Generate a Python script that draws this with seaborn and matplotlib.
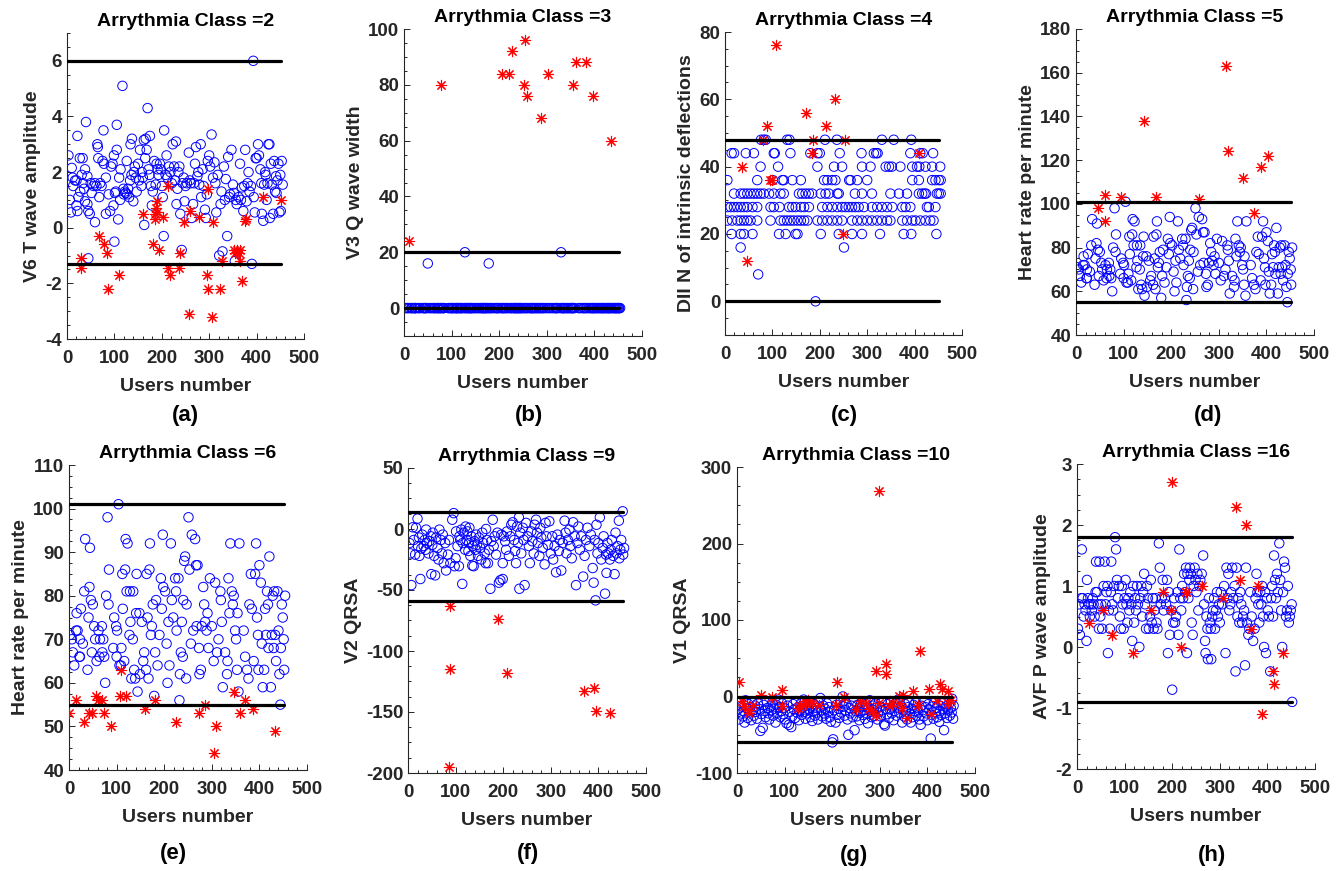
import matplotlib
matplotlib.use("Agg")
import matplotlib.pyplot as plt
import seaborn as sns
import numpy as np
from matplotlib.ticker import MultipleLocator, AutoMinorLocator

# ---------------------------------------------------------------- data
# (user number, value) pairs
a_normal = [(3,2.6),(6,1.0),(8,0.55),(10,2.15),(13,1.5),(17,1.7),(20,1.7),(22,0.6),(20,0.8),(22,3.3),(24,1.1),(27,2.5),
            (33,2.5),(31,1.9),(34,1.6),(38,2.1),(40,3.8),(43,1.85),(38,0.95),(43,0.85),(45,0.6),(48,0.5),(45,-1.1),(52,1.25),
            (56,1.5),(59,0.2),(59,1.6),(64,3.0),(65,2.9),(66,2.5),(68,1.1),(70,1.6),(73,1.5),(77,3.5),(78,2.3),(82,1.8),
            (82,0.5),(91,0.6),(96,2.3),(98,0.8),(100,-0.5),(101,1.25),(99,2.6),(105,3.7),(105,2.8),(108,0.3),(110,1.8),
            (113,2.1),(117,5.1),(119,1.4),(120,1.2),(124,1.25),(126,2.4),(129,1.4),(131,1.1),(133,1.7),(134,3.0),(137,3.2),
            (140,0.95),(141,2.0),(145,1.8),(147,1.3),(150,2.3),(154,2.8),(157,1.5),(160,1.8),(162,3.15),(163,0.1),(166,3.2),
            (168,2.8),(170,4.3),(174,1.9),(175,3.3),(179,0.8),(181,1.3),(184,2.4),(187,1.55),(191,2.1),(196,2.3),(200,1.5),
            (202,1.1),(204,-0.3),(205,3.5),(208,1.9),(210,2.6),(215,2.2),(221,1.6),(223,3.0),(226,2.2),(230,3.1),(231,0.85),
            (235,2.0),(239,0.5),(242,-0.8),(244,1.6),(248,0.95),(253,1.6),(257,2.7),(259,1.7),(263,0.35),(266,0.85),(270,2.3),
            (272,2.9),(275,1.85),(279,1.55),(282,3.0),(283,1.1),(286,2.1),(291,0.65),(293,0.35),(297,2.4),(300,2.6),(305,3.35),
            (308,1.8),(311,2.35),(315,0.55),(318,1.9),(321,-1.0),(324,0.85),(328,-0.85),(331,2.2),(335,1.75),(338,-0.3),
            (340,2.55),(344,1.2),(347,2.8),(350,1.55),(352,1.25),(354,-1.2),(358,0.85),(365,2.3),(369,1.45),(372,0.6),(376,2.8),
            (379,0.95),(383,2.0),(385,1.3),(388,1.5),(390,-1.3),(393,6.0),(396,0.55),(398,2.5),(403,3.0),(405,2.6),(408,2.1),
            (411,0.5),(414,0.25),(416,1.55),(419,1.9),(421,1.0),(425,3.0),(427,3.0),(428,0.35),(432,1.55),(435,0.5),(437,2.4),
            (441,1.85),(442,1.25),(446,2.3),(448,0.55),(451,0.6),(453,2.4),(455,1.55),
            (12,1.8),(28,1.3),(36,1.4),(50,1.6),(62,1.5),(75,2.4),(88,1.2),(93,2.2),(103,1.3),(112,1.0),(122,1.3),(127,1.2),
            (136,1.9),(143,2.2),(152,1.7),(158,2.0),(165,2.5),(172,2.1),(177,1.5),(189,2.3),(193,1.9),(198,2.1),(212,1.8),
            (218,2.0),(228,1.7),(233,1.4),(237,2.2),(246,1.8),(250,1.5),(261,1.6),(268,1.6),(277,2.0),(288,1.5),(295,1.2),
            (302,2.2),(313,1.6),(326,1.3),(333,1.0),(342,1.1),(356,1.0),(362,1.1),(367,1.0),(374,1.5),(381,1.6),(394,1.1),
            (400,2.5),(410,1.6),(418,2.0),(423,1.6),(430,2.3),(439,1.3),(444,1.7),(450,1.9)]
a_class = [(30,-1.1),(30,-1.45),(67,-0.3),(79,-0.6),(84,-0.9),(86,-2.2),(110,-1.7),(160,0.5),(181,-0.6),(186,0.5),
           (188,0.7),(190,0.95),(186,0.3),(195,-0.8),(202,0.4),(214,1.5),(214,-1.45),(218,-1.7),(236,-1.45),(238,-0.9),
           (246,0.2),(257,-3.1),(259,0.6),(278,0.4),(297,1.4),(296,-1.7),(297,-2.2),(306,-3.2),(309,0.2),(323,-2.2),
           (327,-1.2),(353,-0.8),(359,-0.8),(365,-0.8),(363,-0.9),(366,-1.2),(369,-1.9),(375,0.25),(377,0.3),(413,1.1),
           (451,1.0),(190,0.55),(355,-0.9)]

# heart-rate of the normal users (same users in panels d and e)
hr_normal = [(2,71),(6,70),(8,67),(11,64),(15,72),(18,72),(16,76),(22,66),(23,66),(25,77),(23,70),(29,69),(32,81),(34,93),
             (39,63),(41,75),(43,82),(44,91),(46,79),(50,78),(48,67),(53,73),(55,70),(58,65),(62,72),(64,66),(65,70),(69,73),
             (70,67),(72,70),(74,66),(76,60),(78,80),(81,98),(83,78),(84,86),(93,68),(95,75),(99,73),(100,66),(101,72),(104,101),
             (106,64),(109,64),(110,68),(112,85),(113,77),(116,65),(118,86),(119,93),(121,81),(123,92),(127,71),(128,81),(129,74),
             (131,61),(134,70),(135,81),(137,63),(139,61),(141,76),(142,85),(144,58),(148,76),(149,62),(153,74),(156,65),(158,67),
             (162,63),(163,85),(165,75),(167,61),(169,86),(170,92),(172,71),(174,73),(176,78),(179,57),(181,67),(183,79),(186,64),
             (190,71),(193,84),(195,77),(197,94),(198,82),(202,81),(205,69),(207,60),(209,74),(211,64),(214,92),(216,79),(219,75),
             (223,84),(225,81),(226,72),(230,84),(232,56),(233,62),(235,67),(237,74),(239,66),(240,79),(242,88),(244,89),(246,61),
             (247,78),(251,98),(253,86),(256,69),(258,94),(261,72),(265,93),(267,87),(270,87),(268,73),(273,68),(274,62),(277,63),
             (279,73),(282,82),(284,78),(286,74),(289,72),(291,76),(293,68),(296,84),(300,73),(304,65),(307,83),(311,67),(314,70),
             (318,81),(319,79),(321,74),(323,59),(328,67),(332,62),(333,65),(335,84),(337,76),(339,92),(342,81),(344,78),(346,80),
             (349,72),(351,70),(353,63),(354,76),(356,58),(358,92),(367,72),(370,66),(374,63),(377,61),(379,78),(382,85),(384,77),
             (388,65),(391,85),(393,92),(395,75),(397,71),(398,63),(400,87),(403,83),(405,69),(407,59),(410,63),(412,77),(414,71),
             (416,81),(418,78),(419,68),(421,89),(424,59),(426,71),(428,80),(430,68),(431,81),(433,71),(435,65),(438,81),(440,72),
             (442,62),(444,55),(445,68),(447,78),(449,75),(452,63),(454,80),(451,70)]

b_normal = [(50,16),(128,20),(178,16),(330,20)]
b_class = [(10,24),(78,80),(205,84),(220,84),(227,92),(255,96),(253,80),(258,76),(288,68),(303,84),(356,80),(361,88),
           (382,88),(398,76),(435,60)]

# panel c values are whole counts, grouped by level
c_levels = {
    48: [76,82,86,131,136,211,236,331,356,393],
    44: [14,19,44,61,103,105,138,180,195,200,242,288,314,319,322,391,412,417,439],
    40: [75,112,195,230,247,289,307,339,346,352,370,395,405,410,423,437,454],
    36: [5,68,101,121,124,142,160,209,216,226,233,262,265,279,300,395,409,437,444,451,455],
    32: [19,33,40,47,54,61,68,75,82,93,103,117,124,156,163,170,177,184,202,212,219,237,240,274,289,310,349,367,384,
         409,416,421,424,447,451,455],
    28: [5,12,19,26,33,40,47,58,68,96,103,115,135,142,149,160,167,177,205,216,226,237,247,254,261,268,275,282,293,
         310,321,331,342,353,374,381,391,426,430,444],
    24: [5,15,26,33,40,47,54,68,96,117,124,131,138,145,153,160,167,174,195,205,216,226,237,247,268,279,289,300,310,
         321,331,342,349,374,384,395,402,412,423,433,440],
    20: [14,33,40,58,114,128,149,153,202,240,268,289,327,377,393,446],
    16: [33,251],
    8: [70],
    0: [191],
}
c_class = [(107,76),(89,52),(80,48),(35,40),(46,12),(94,36),(100,36),(170,56),(186,48),(184,44),(214,52),(232,60),
           (253,48),(249,20),(409,44)]

d_class = [(47,98),(61,104),(61,92),(95,103),(142,138),(168,103),(259,102),(316,163),(319,124),(351,112),(374,96),
           (388,117),(403,122)]
e_class = [(1,53),(15,56),(32,51),(41,53),(48,53),(57,57),(61,56),(70,56),(73,53),(89,50),(107,57),(109,63),(120,57),
           (159,54),(180,56),(224,51),(274,53),(286,55),(305,44),(309,50),(346,58),(360,53),(369,56),(386,54),(433,49)]

f_normal = [(3,-11.5),(5,-20),(7,-46),(10,1.4),(12,-9),(15,-21),(17,1),(20,8.5),(21,-14),(23,-7),(24,-22),(26,-41),
            (28,-16),(30,-4.6),(33,-14),(35,-9),(37,-17),(38,-0.5),(40,-11.5),(43,-20),(45,-10),(48,-6),(49,-37),(51,-13),
            (52,-3),(55,-22),(57,-38),(59,-7),(62,-15.6),(64,-25),(66,-0.5),(69,-9),(71,-20),(73,-4.6),(75,-28),(78,-11.5),
            (80,-34),(84,-21),(86,-9),(89,-28),(93,7.6),(96,13),(98,-30.5),(100,-24),(101,-2),(104,-14),(107,-30.5),(108,-6),
            (110,-9),(112,-0.5),(114,-45),(115,-11.5),(117,-3),(120,-17),(121,2),(123,-9),(125,-2),(127,-18),(128,-11.5),
            (129,1),(131,-22),(133,-6),(135,-30),(136,-14),(138,-30.5),(140,-10),(142,-17),(143,-4.6),(145,-13),(147,-22),
            (149,-7),(152,-15.6),(154,-25),(156,-3),(158,-11.5),(161,-20),(163,-28),(164,0),(166,-9),(168,-28),(170,-17),
            (173,-49),(175,-10),(178,7.6),(180,-14),(182,-6),(185,-21),(188,-3),(191,-44),(194,-42),(196,-4.6),(199,-41),
            (199,-28),(201,-6),(204,-10),(206,-17),(208,-2),(212,-22),(215,-6),(217,3.5),(220,5.5),(223,-9),(225,-18),
            (227,-28),(229,2),(231,-11.5),(233,9.5),(234,-49),(236,-3),(238,-20),(241,1),(243,-9),(245,-46),(248,5),(251,-6),
            (254,-14),(256,-28),(259,-2),(261,-10),(264,-20),(266,3.5),(269,7.6),(271,-3),(273,-11.5),(276,-22),(278,1),
            (280,-7),(283,-15.6),(287,-29),(289,5),(291,-6),(294,-13),(297,6.3),(300,-20),(303,-6),(305,-25),(308,-14),
            (311,-35.5),(314,-4.6),(317,-18),(319,-9),(322,-34),(325,-11.5),(329,6.8),(331,-3),(333,-20),(336,-9),(339,-0.5),
            (341,-14),(344,-24),(347,5.5),(350,-6),(353,-46),(356,-11.5),(358,2),(361,-17),(364,-6),(368,-39),(371,-22),
            (374,-9),(377,1),(381,-14),(384,-4.6),(388,-32),(390,-44),(392,-9),(394,-58.5),(396,3.5),(398,-20),(400,-11.5),
            (403,9.5),(406,-25),(409,-15.6),(411,-6),(414,-53),(416,-21),(417,-36),(419,-11.5),(421,-20),(424,-25),(426,-17),
            (428,-9),(431,-22),(434,-37),(436,-3),(438,-20),(440,-14),(443,6.8),(444,-24),(446,-17),(448,-9),(451,14.5),
            (452,-21),(454,-15.6)]
f_class = [(89,-63),(190,-74),(89,-115),(208,-118),(369,-133),(390,-130),(396,-149),(424,-151),(86,-195)]

g_normal = [(2,-17),(4,-30),(6,-8),(8,-22),(10,-13),(12,-26),(14,-19),(16,-34),(18,-5),(20,-15),(22,-28),(24,-10),
            (26,-21),(28,-14),(30,-31),(32,-7),(34,-18),(36,-25),(38,-12),(40,-20),(42,-29),(44,-9),(46,-16),(49,-45),
            (51,-23),(54,-41),(56,-11),(58,-19),(60,-27),(62,-6),(64,-15),(66,-22),(68,-30),(70,-13),(72,-18),(74,-8),
            (76,-25),(78,-16),(81,-34),(83,-11),(85,-21),(87,-4),(89,-14),(91,-27),(93,-19),(95,-9),(97,-23),(99,-15),
            (101,-30),(104,-35),(106,-12),(109,-37),(111,-20),(114,-40),(116,-26),(118,-10),(120,-17),(122,-28),(124,-6),
            (126,-21),(128,-14),(130,-31),(132,-18),(134,-9),(136,-24),(138,-15),(140,-4),(142,-20),(144,-29),(146,-12),
            (148,-22),(150,-7),(152,-17),(154,-27),(156,-13),(158,-32),(160,-19),(162,-10),(164,-25),(166,-15),(168,-21),
            (170,-30),(172,-8),(175,-2),(177,-18),(179,-26),(181,-12),(183,-22),(185,-16),(187,-29),(189,-9),(191,-20),
            (193,-14),(195,-27),(197,-33),(200,-60),(202,-56),(204,-18),(207,-34),(209,-11),(211,-24),(213,-16),(215,-28),
            (217,-7),(219,-21),(222,0),(224,-13),(226,-25),(228,-18),(230,-9),(232,-30),(234,-50),(236,-15),(238,-22),
            (240,-12),(243,-27),(245,-6),(247,-44),(249,-19),(251,-26),(253,-11),(255,-17),(257,-31),(259,-21),(261,-8),
            (263,-14),(265,-24),(267,-18),(269,-29),(271,-10),(273,-22),(275,-35),(277,-15),(279,-5),(281,-20),(283,-27),
            (285,-12),(287,-18),(289,-25),(291,-9),(293,-15),(295,-30),(297,-21),(300,-13),(302,-26),(304,-7),(306,-18),
            (309,-36),(311,-38),(313,-16),(315,-23),(317,-10),(319,-28),(321,-17),(323,-6),(325,-22),(327,-13),(329,-31),
            (331,-19),(333,-9),(335,-25),(337,-15),(339,-4),(341,-21),(344,-12),(347,-34),(349,-18),(351,-26),(353,-10),
            (355,-20),(357,-30),(359,-14),(361,-7),(363,-23),(365,-34),(367,-16),(369,-27),(371,-11),(373,-19),(375,-8),
            (377,-25),(379,-15),(381,-21),(383,-30),(386,-37),(388,-12),(390,-18),(392,-26),(394,-6),(396,-14),(398,-22),
            (400,-31),(402,-10),(404,-17),(407,-55),(409,-24),(411,-13),(413,-29),(415,-8),(417,-20),(419,-15),(421,-27),
            (423,-11),(425,-33),(427,-19),(429,-24),(431,-9),(433,-16),(435,-44),(437,-22),(439,-13),(441,-28),(443,-18),
            (445,-10),(447,-25),(449,-15),(451,-21),(452,-3),(454,-29),(455,-12)]
g_class = [(4,18.5),(95,8),(51,2.4),(74,0),(210,18.5),(298,269),(292,33),(313,43),(312,29.5),(385,59),(404,10),
           (426,16.5),(430,10),(444,6.7),(369,6.7),(340,1),(348,2.4),(358,-28),(407,-22.5),(11,-6),(14,-13),(25,-17),
           (26,-21),(128,-15),(133,-13),(138,-11),(142,-6),(149,-4),(172,-11),(208,-11),(224,-1),(249,-16),(270,-8.5),
           (278,-16),(284,-19),(291,-24),(299,-8.5),(319,-13),(326,-8.5),(340,-8.5),(347,-15),(381,-11),(421,-6),
           (444,-8.5),(449,-5),(157,-8.5),(259,-6),(95,-13),(33,-11),(145,-9)]

h_normal = [(2,0.3),(4,0.7),(6,0.2),(9,0.8),(10,1.6),(12,0.8),(14,0.5),(16,0.7),(18,0.6),(20,0.1),(21,1.1),(23,0.8),
            (25,0.7),(27,0.5),(29,0.7),(31,0.6),(33,0.8),(35,0.7),(37,0.5),(39,0.9),(40,1.4),(42,0.9),(44,0.7),(46,0.3),
            (47,1.4),(49,0.5),(51,0.7),(53,0.3),(56,1.0),(58,1.4),(60,0.7),(62,0.9),(64,1.0),(65,-0.1),(67,0.6),(69,0.3),
            (71,0.9),(72,1.4),(74,0.7),(76,0.6),(78,1.0),(80,1.8),(82,1.6),(84,1.1),(86,0.8),(88,1.0),(90,0.5),(92,0.3),
            (94,1.0),(96,0.7),(98,0.3),(100,0.8),(102,1.1),(104,0.7),(106,0.4),(108,0.8),(110,0.6),(112,0.9),(114,0.7),
            (116,0.1),(118,1.0),(120,0.4),(122,0.8),(124,0.6),(126,1.0),(128,0.7),(131,0.0),(133,0.8),(135,1.0),(137,0.5),
            (139,0.9),(141,1.2),(143,0.7),(145,0.3),(147,1.0),(149,0.8),(151,0.3),(153,0.5),(155,1.1),(157,0.4),(159,0.8),
            (161,0.3),(163,0.6),(165,0.8),(167,0.4),(169,0.3),(172,1.7),(174,1.3),(176,0.7),(178,0.8),(180,1.1),(182,0.6),
            (185,0.8),(187,0.7),(189,1.1),(191,-0.1),(193,0.9),(195,0.2),(198,0.6),(200,-0.7),(202,0.4),(204,0.8),(206,0.4),
            (208,0.5),(211,0.9),(213,0.2),(215,1.6),(217,0.8),(219,0.6),(221,1.0),(223,0.8),(225,1.2),(227,0.9),(229,1.3),
            (231,-0.1),(232,1.2),(234,0.8),(236,1.1),(237,1.3),(239,1.2),(241,0.4),(243,0.2),(245,1.0),(247,1.3),(249,1.1),
            (251,0.9),(253,1.2),(255,0.6),(257,1.0),(259,1.1),(262,1.2),(265,1.5),(267,0.7),(269,0.1),(270,-0.1),(272,0.5),
            (274,0.3),(275,-0.2),(277,0.8),(279,0.4),(281,0.3),(282,-0.2),(284,0.5),(286,0.6),(288,0.8),(290,0.3),(292,0.6),
            (294,0.9),(296,0.5),(298,0.7),(300,0.4),(302,0.9),(305,0.7),(309,1.0),(312,-0.1),(314,1.3),(316,0.8),(318,1.2),
            (320,0.6),(322,0.7),(324,0.9),(326,1.3),(328,0.8),(331,1.0),(333,-0.4),(335,1.3),(337,0.5),(339,0.8),(341,0.4),
            (343,0.9),(345,0.7),(347,0.4),(349,0.5),(351,0.6),(353,-0.3),(355,1.3),(357,0.4),(360,0.2),(362,0.3),(364,0.9),
            (367,0.5),(370,0.1),(373,0.3),(375,0.8),(377,1.2),(379,0.9),(381,0.7),(383,0.4),(385,0.9),(387,0.7),(389,1.0),
            (391,0.5),(393,0.0),(395,0.9),(397,-0.1),(399,0.8),(401,0.6),(403,0.5),(406,-0.4),(408,0.8),(410,1.0),(412,0.5),
            (414,1.5),(416,1.1),(418,0.8),(420,1.2),(422,0.9),(425,1.7),(427,1.1),(429,0.6),(431,0.0),(433,0.9),(435,1.4),
            (437,1.3),(439,0.5),(441,0.6),(443,1.0),(445,0.4),(447,0.5),(449,0.6),(451,0.7),(452,-0.9)]
h_class = [(26,0.4),(55,0.6),(73,0.2),(117,-0.1),(156,0.6),(180,0.9),(199,2.7),(198,0.6),(219,0.0),(230,0.9),(263,1.0),
           (307,0.8),(334,2.3),(342,1.1),(355,2.0),(365,0.3),(381,1.0),(388,-1.1),(411,-0.4),(414,-0.6),(432,-0.1),(228,0.9)]

# thresholds (upper, lower) drawn as black lines
a_limits = [6, -1.3]
b_limits = [20, 0]
c_limits = [48, 0]
d_limits = [101, 55]
e_limits = [101, 55]
f_limits = [14, -59]
g_limits = [0, -60]
h_limits = [1.8, -0.9]

# ------------------------------------------------------------ derived
# panel b: everyone normal except the four users above sits at 0
b_normal_all = b_normal + [(u, 0) for u, _ in hr_normal if u not in (50, 128, 178, 330)]
c_normal = [(u, lvl) for lvl, users in c_levels.items() for u in users]

W, H = 1344, 871
panels = [
    dict(normal=a_normal, cls=a_class, lim=a_limits, title="Arrythmia Class =2", ylabel="V6 T wave amplitude",
         ylim=(-4, 7), ystep=2, box=(67, 304, 33, 339), tag="(a)", tagpos=(185, 415)),
    dict(normal=b_normal_all, cls=b_class, lim=b_limits, title="Arrythmia Class =3", ylabel="V3 Q wave width",
         ylim=(-10, 100), ystep=20, box=(404, 642, 29, 336), tag="(b)", tagpos=(529, 415)),
    dict(normal=c_normal, cls=c_class, lim=c_limits, title="Arrythmia Class =4", ylabel="DII N of intrinsic deflections",
         ylim=(-10, 80), ystep=20, box=(725, 962, 32, 335), tag="(c)", tagpos=(844, 415)),
    dict(normal=hr_normal, cls=d_class, lim=d_limits, title="Arrythmia Class =5", ylabel="Heart rate per minute",
         ylim=(40, 180), ystep=20, box=(1076, 1314, 29, 335), tag="(d)", tagpos=(1208, 415)),
    dict(normal=hr_normal, cls=e_class, lim=e_limits, title="Arrythmia Class =6", ylabel="Heart rate per minute",
         ylim=(40, 110), ystep=10, box=(69, 307, 465, 770), tag="(e)", tagpos=(173, 853)),
    dict(normal=f_normal, cls=f_class, lim=f_limits, title="Arrythmia Class =9", ylabel="V2 QRSA",
         ylim=(-200, 50), ystep=50, box=(408, 646, 468, 773), tag="(f)", tagpos=(528, 853)),
    dict(normal=g_normal, cls=g_class, lim=g_limits, title="Arrythmia Class =10", ylabel="V1 QRSA",
         ylim=(-100, 300), ystep=100, box=(737, 975, 467, 773), tag="(g)", tagpos=(854, 855)),
    dict(normal=h_normal, cls=h_class, lim=h_limits, title="Arrythmia Class =16", ylabel="AVF P wave amplitude",
         ylim=(-2, 3), ystep=1, box=(1077, 1315, 464, 769), tag="(h)", tagpos=(1212, 855)),
]

sns.set_theme(style="white")
plt.rcParams["font.family"] = ["Liberation Sans", "DejaVu Sans"]
plt.rcParams["font.weight"] = "bold"
plt.rcParams["axes.labelweight"] = "bold"
plt.rcParams["axes.titleweight"] = "bold"
plt.rcParams["axes.unicode_minus"] = False

fig = plt.figure(figsize=(W / 100, H / 100), dpi=100)
fig.patch.set_facecolor("white")
ink = "#262626"

for p in panels:
    l, r, t, b = p["box"]
    ax = fig.add_axes([l / W, 1 - b / H, (r - l) / W, (b - t) / H])
    ax.set_facecolor("white")

    nx, ny = np.array(p["normal"], dtype=float).T
    cx, cy = np.array(p["cls"], dtype=float).T
    sns.scatterplot(x=nx, y=ny, ax=ax, marker="o", s=46, color="blue", facecolor="none",
                    edgecolor="blue", linewidth=0.7, zorder=2)
    sns.scatterplot(x=cx, y=cy, ax=ax, marker=(8, 2, 0), s=55, color="red", linewidth=0.8, zorder=3)
    for lv in p["lim"]:
        ax.plot([1, 452], [lv, lv], color="black", linewidth=2.3, zorder=4)

    ax.set_xlim(0, 500)
    ax.set_ylim(*p["ylim"])
    ax.xaxis.set_major_locator(MultipleLocator(100))
    ax.yaxis.set_major_locator(MultipleLocator(p["ystep"]))
    ax.xaxis.set_minor_locator(AutoMinorLocator(5))
    ax.yaxis.set_minor_locator(AutoMinorLocator(4))
    ax.tick_params(which="both", direction="in", colors=ink, labelsize=13.5, width=0.7,
                   top=False, right=False, left=True, bottom=True)
    ax.tick_params(which="major", length=4)
    ax.tick_params(which="minor", length=2)
    ax.tick_params(axis="x", which="major", pad=8)
    for lab in ax.get_xticklabels() + ax.get_yticklabels():
        lab.set_fontweight("bold")
    for side in ("top", "right"):
        ax.spines[side].set_visible(False)
    for side in ("left", "bottom"):
        ax.spines[side].set_color(ink)
        ax.spines[side].set_linewidth(0.8)

    ax.set_title(p["title"], fontsize=14, fontweight="bold", color="black", pad=5)
    ax.set_xlabel("Users number", fontsize=14, fontweight="bold", color=ink, labelpad=8)
    ax.set_ylabel(p["ylabel"], fontsize=14, fontweight="bold", color=ink, labelpad=3)
    tx, ty = p["tagpos"]
    fig.text(tx / W, 1 - ty / H, p["tag"], fontsize=16, fontweight="bold", color="black",
             ha="center", va="center")

fig.savefig("out.png", dpi=100, facecolor="white")
